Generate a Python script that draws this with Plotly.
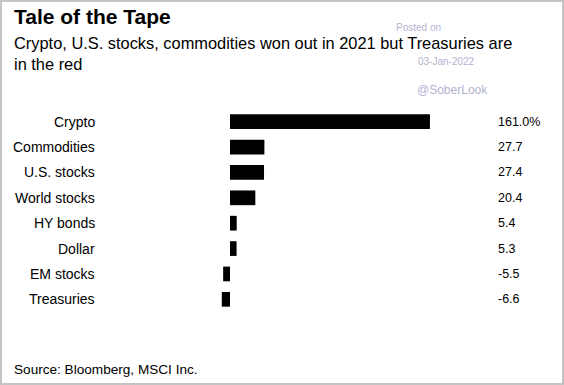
import plotly.graph_objects as go

categories = ["Crypto", "Commodities", "U.S. stocks", "World stocks", "HY bonds", "Dollar", "EM stocks", "Treasuries"]
values = [161.0, 27.7, 27.4, 20.4, 5.4, 5.3, -5.5, -6.6]
value_labels = ["161.0%", "27.7", "27.4", "20.4", "5.4", "5.3", "-5.5", "-6.6"]

W, H = 564, 385
L, R, T, B = 200, 124, 109, 73
plot_h = H - T - B
plot_w = W - L - R

def py(p):
    return (H - B - p) / plot_h

def px(p):
    return (p - L) / plot_w

FONT = "Liberation Sans, Arial, sans-serif"

fig = go.Figure()
fig.add_trace(go.Bar(
    x=values, y=categories, orientation="h",
    marker=dict(color="#000000", line=dict(width=0)),
    width=0.58, hoverinfo="skip",
))

annotations = []
for c, lab in zip(categories, value_labels):
    annotations.append(dict(x=px(496), xref="paper", y=c, yref="y", text=lab,
                            showarrow=False, xanchor="left", yanchor="middle",
                            font=dict(family=FONT, size=12.5, color="#000")))
    annotations.append(dict(x=px(97), xref="paper", y=c, yref="y", text=c,
                            showarrow=False, xanchor="right", yanchor="middle",
                            font=dict(family=FONT, size=14, color="#000")))

def txt(text, x, y, size, color="#000", bold=False, xanchor="left"):
    t = f"<b>{text}</b>" if bold else text
    annotations.append(dict(x=px(x), xref="paper", y=py(y), yref="paper", text=t,
                            showarrow=False, xanchor=xanchor, yanchor="middle",
                            font=dict(family=FONT, size=size, color=color)))

# watermark (behind)
wm = "#b3b3cf"
txt("Posted on", 418, 27, 10, wm, xanchor="center")
txt("03-Jan-2022", 446, 61, 10, wm, xanchor="center")
txt("@SoberLook", 452, 90, 12, wm, xanchor="center")

txt("Tale of the Tape", 12, 16, 21, bold=True)
txt("Crypto, U.S. stocks, commodities won out in 2021 but Treasuries are", 12, 43, 16.4)
txt("in the red", 12, 64, 16.4)
txt("Source: Bloomberg, MSCI Inc.", 12, 369, 13.6)

fig.update_layout(
    width=W, height=H,
    margin=dict(l=L, r=R, t=T, b=B),
    paper_bgcolor="white", plot_bgcolor="white",
    showlegend=False,
    xaxis=dict(range=[-24.15, 169.1], visible=False, fixedrange=True),
    yaxis=dict(autorange=False, range=[7.5, -0.5], visible=False, fixedrange=True,
               categoryorder="array", categoryarray=categories),
    annotations=annotations,
    shapes=[dict(type="rect", xref="paper", yref="paper",
                 x0=px(1), x1=px(W - 1), y0=py(H - 1), y1=py(1),
                 line=dict(color="#c4c4c4", width=2), fillcolor="rgba(0,0,0,0)", layer="above")],
)

fig.write_html("out.html", config={"displayModeBar": False},
               post_script="document.body.style.margin='0';document.body.style.overflow='hidden';")
